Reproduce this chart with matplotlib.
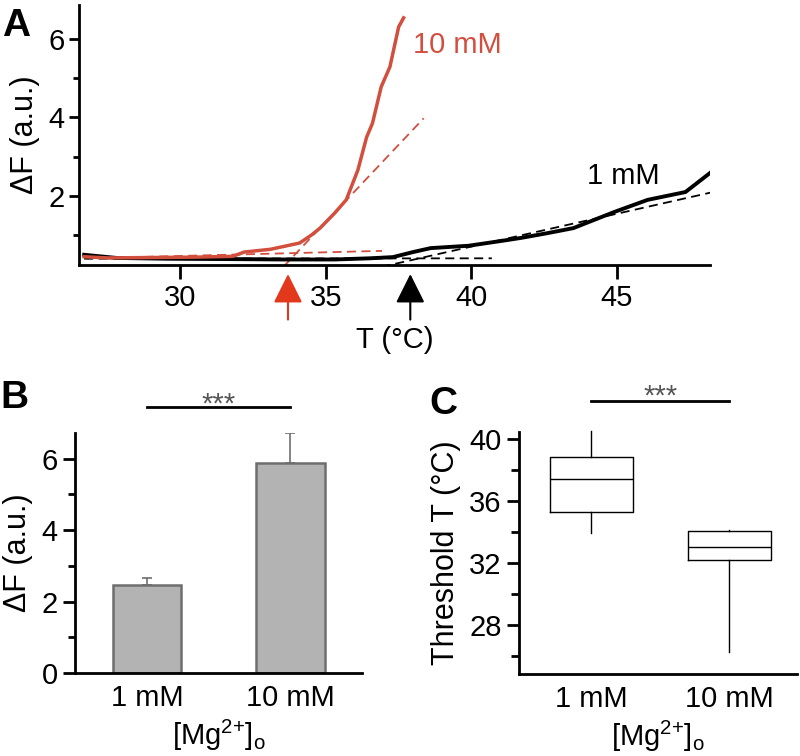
import matplotlib
matplotlib.use('Agg')
import matplotlib.pyplot as plt
import matplotlib.transforms as mtransforms
from matplotlib.ticker import MultipleLocator

plt.rcParams['font.family'] = ['Liberation Sans', 'DejaVu Sans']
plt.rcParams['mathtext.fontset'] = 'custom'
plt.rcParams['mathtext.rm'] = 'Liberation Sans'
plt.rcParams['mathtext.it'] = 'Liberation Sans:italic'
plt.rcParams['mathtext.bf'] = 'Liberation Sans:bold'

# ---------------- data: panel A ----------------
red_T = [26.7, 27.5, 29.0, 30.5, 31.8, 32.2, 33.1, 33.6, 34.1, 34.5, 34.8, 35.3,
         35.7, 36.1, 36.4, 36.6, 36.9, 37.2, 37.5, 37.67]
red_F = [0.45, 0.42, 0.43, 0.44, 0.46, 0.57, 0.64, 0.72, 0.80, 1.00, 1.18, 1.56,
         1.90, 2.66, 3.50, 3.85, 4.78, 5.29, 6.31, 6.54]
black_T = [26.7, 27.8, 29.5, 31.8, 33.5, 35.3, 36.5, 37.3, 38.0, 38.6, 39.9, 41.0,
           41.7, 42.6, 43.5, 44.9, 46.05, 47.35, 48.2]
black_F = [0.50, 0.42, 0.40, 0.39, 0.38, 0.38, 0.41, 0.44, 0.57, 0.67, 0.73, 0.85,
           0.93, 1.05, 1.18, 1.59, 1.90, 2.10, 2.59]
red_base_T = [26.8, 36.93]
red_base_F = [0.41, 0.60]
red_fit_T = [33.55, 38.36]
red_fit_F = [0.20, 3.98]
black_base_T = [26.7, 40.7]
black_base_F = [0.40, 0.41]
black_fit_T = [36.9, 48.3]
black_fit_F = [0.19, 2.10]
red_threshold = 33.7
black_threshold = 37.9
curve_labels = ['10 mM', '1 mM']

# ---------------- data: panel B ----------------
conc_labels = ['1 mM', '10 mM']
bar_vals = [2.47, 5.87]
bar_err = [0.20, 0.86]

# ---------------- data: panel C ----------------
box_med = [37.42, 33.03]
box_q1 = [35.29, 32.20]
box_q3 = [38.84, 34.06]
box_lo = [33.94, 26.26]
box_hi = [40.55, 34.15]

RED = '#d24f3e'
ARROW_RED = '#e2381c'
FS = 21
FSL = 22

fig = plt.figure(figsize=(8, 7.56), dpi=100)

def style(ax):
    for s in ['top', 'right']:
        ax.spines[s].set_visible(False)
    for s in ['left', 'bottom']:
        ax.spines[s].set_linewidth(2)
    ax.tick_params(which='both', direction='out', width=2, labelsize=FS, colors='black')

# ---------------- Panel A ----------------
axA = fig.add_axes([0.099, 0.6495, 0.7888, 0.344])
style(axA)
axA.plot(red_base_T, red_base_F, color=RED, lw=1.3, dashes=(5, 3))
axA.plot(red_fit_T, red_fit_F, color=RED, lw=1.3, dashes=(5, 3))
axA.plot(black_base_T, black_base_F, color='black', lw=1.3, dashes=(5, 3))
axA.plot(black_fit_T, black_fit_F, color='black', lw=1.3, dashes=(5, 3))
axA.plot(black_T, black_F, color='black', lw=2.8)
axA.plot(red_T, red_F, color=RED, lw=2.5)
axA.set_xlim(26.53, 48.2)
axA.set_ylim(0.24, 6.87)
axA.set_xticks([30, 35, 40, 45])
axA.set_yticks([2, 4, 6])
axA.yaxis.set_minor_locator(MultipleLocator(1))
axA.tick_params(axis='x', which='major', length=10)
axA.tick_params(axis='y', which='major', length=7)
axA.tick_params(axis='y', which='minor', length=4)
axA.set_ylabel('ΔF (a.u.)', fontsize=FSL, labelpad=6)
axA.set_xlabel('T (°C)', fontsize=FS, labelpad=10)
axA.text(38.0, 5.85, curve_labels[0], color=RED, fontsize=FS, va='center', ha='left')
axA.text(43.97, 2.51, curve_labels[1], color='black', fontsize=FS, va='center', ha='left')
trans = mtransforms.blended_transform_factory(axA.transData, axA.transAxes)
for thr, col in [(red_threshold, ARROW_RED), (black_threshold, 'black')]:
    axA.annotate('', xy=(thr, -0.035), xycoords=trans, xytext=(thr, -0.21), textcoords=trans,
                 arrowprops=dict(arrowstyle='-|>,head_length=0.9,head_width=0.45',
                                 mutation_scale=20, color=col, lw=1.5, shrinkA=0, shrinkB=0),
                 annotation_clip=False)

# ---------------- Panel B ----------------
axB = fig.add_axes([0.094, 0.1098, 0.3588, 0.3175])
style(axB)
pos = [0, 1]
axB.bar(pos, bar_vals, width=0.48, color='#b3b3b3', edgecolor='#6e6e6e', lw=1.8, zorder=2)
axB.errorbar(pos, bar_vals, yerr=[[0, 0], bar_err], fmt='none', ecolor='#6e6e6e',
             elinewidth=1.2, capsize=3.5, capthick=1.2, zorder=1)
axB.set_xlim(-0.5, 1.5)
axB.set_ylim(0, 6.72)
axB.set_yticks([0, 2, 4, 6])
axB.yaxis.set_minor_locator(MultipleLocator(1))
axB.set_xticks(pos)
axB.set_xticklabels(conc_labels)
axB.tick_params(axis='x', length=0, pad=8)
axB.tick_params(axis='y', which='major', length=9)
axB.tick_params(axis='y', which='minor', length=5)
axB.set_ylabel('ΔF (a.u.)', fontsize=FSL, labelpad=6)
axB.set_xlabel(r'[Mg$^{2{+}}$]$_\mathrm{o}$', fontsize=FS, labelpad=4)
axB.plot([0, 1], [7.45, 7.45], color='black', lw=2, clip_on=False)
axB.text(0.5, 7.3, '***', color='#555555', fontsize=FS, ha='center', va='baseline', clip_on=False)

# ---------------- Panel C ----------------
axC = fig.add_axes([0.649, 0.1085, 0.3475, 0.320])
style(axC)
stats = [dict(med=box_med[i], q1=box_q1[i], q3=box_q3[i], whislo=box_lo[i],
              whishi=box_hi[i], label=conc_labels[i]) for i in range(2)]
bp = axC.bxp(stats, positions=pos, widths=0.6, showcaps=False, showfliers=False,
             boxprops=dict(color='black', lw=1.0),
             whiskerprops=dict(color='black', lw=1.0),
             medianprops=dict(color='black', lw=1.0))
for w in bp['whiskers']:
    w.set_clip_on(False)
axC.set_xlim(-0.52, 1.49)
axC.set_ylim(24.84, 40.45)
axC.set_yticks([28, 32, 36, 40])
axC.yaxis.set_minor_locator(MultipleLocator(2))
axC.tick_params(axis='x', length=0, pad=8)
axC.tick_params(axis='y', which='major', length=9)
axC.tick_params(axis='y', which='minor', length=6)
axC.set_ylabel('Threshold T (°C)', fontsize=FSL, labelpad=6)
axC.set_xlabel(r'[Mg$^{2{+}}$]$_\mathrm{o}$', fontsize=FS, labelpad=4)
axC.plot([0, 1], [42.45, 42.45], color='black', lw=2, clip_on=False)
axC.text(0.5, 42.2, '***', color='#555555', fontsize=FS, ha='center', va='baseline', clip_on=False)

# ---------------- panel letters ----------------
fig.text(0.002, 1 - 36 / 756, 'A', fontsize=28, weight='bold', va='baseline', ha='left')
fig.text(0.000, 1 - 408 / 756, 'B', fontsize=28, weight='bold', va='baseline', ha='left')
fig.text(0.537, 1 - 414 / 756, 'C', fontsize=28, weight='bold', va='baseline', ha='left')

fig.savefig('out.png', dpi=100)
